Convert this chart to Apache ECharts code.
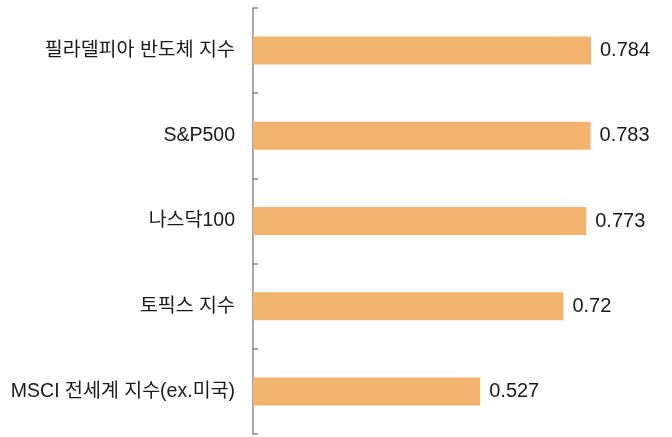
<!DOCTYPE html>
<html>
<head>
<meta charset="utf-8">
<script src="https://cdn.jsdelivr.net/npm/echarts@6/dist/echarts.min.js"></script>
<style>
  html, body { margin: 0; padding: 0; background: #fff; }
  #chart { width: 672px; height: 437px; }
</style>
</head>
<body>
<div id="chart"></div>
<script>
const CATEGORIES = ['필라델피아 반도체 지수', 'S&P500', '나스닥100', '토픽스 지수', 'MSCI 전세계 지수(ex.미국)'];
const VALUES = [0.784, 0.783, 0.773, 0.72, 0.527];
const FONT = '"Liberation Sans", "Noto Sans CJK KR", sans-serif';

const chart = echarts.init(document.getElementById('chart'), null, { renderer: 'canvas' });
chart.setOption({
    animation: false,
    grid: { left: 253, top: 8, width: 388, height: 426 },
    xAxis: { type: 'value', min: 0, max: 0.9, show: false },
    yAxis: {
        type: 'category',
        data: CATEGORIES,
        inverse: true,
        axisLine: { show: true, lineStyle: { color: '#8a8a8a', width: 1.5 } },
        axisTick: { show: true, inside: true, length: 5, lineStyle: { color: '#8a8a8a', width: 1.5 } },
        axisLabel: { margin: 18, fontSize: 19.5, color: '#1a1a1a', fontFamily: FONT },
    },
    series: [{
        type: 'bar',
        data: VALUES,
        barWidth: 28,
        itemStyle: { color: '#F1B36D' },
        label: {
            show: true,
            position: 'right',
            distance: 9,
            fontSize: 20,
            color: '#1a1a1a',
            fontFamily: FONT,
            formatter: p => String(p.value),
        },
    }],
});
</script>
</body>
</html>
